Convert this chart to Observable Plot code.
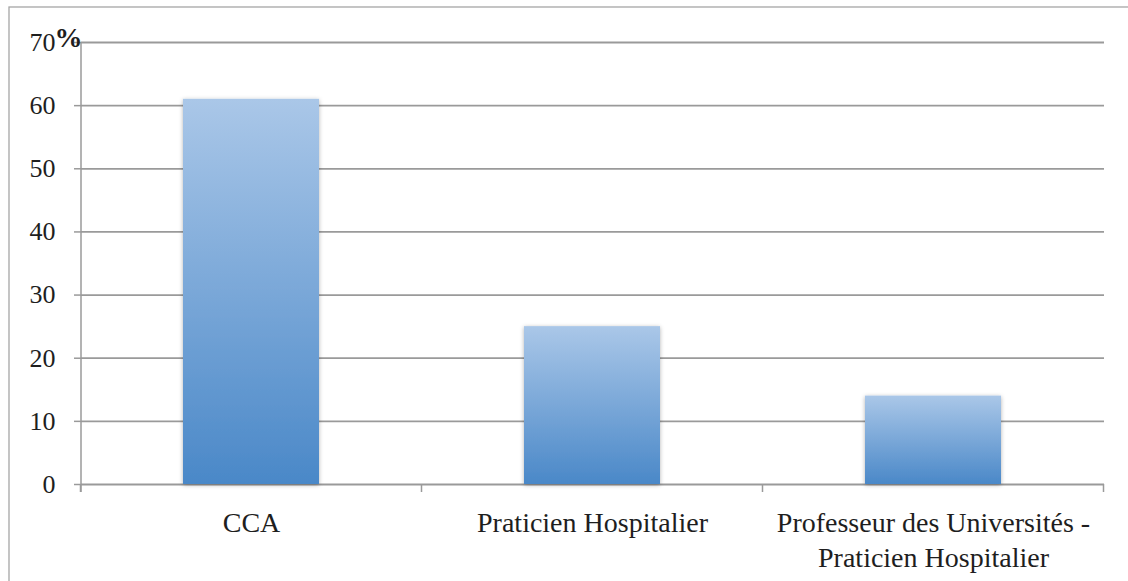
<!DOCTYPE html>
<html><head><meta charset="utf-8">
<script src="https://cdn.jsdelivr.net/npm/d3@7"></script>
<script src="https://cdn.jsdelivr.net/npm/@observablehq/plot@0.6"></script>
<style>body{margin:0;background:#fff;overflow:hidden}</style>
</head><body><div id="chart"></div>
<script>
const categories = ["CCA", "Praticien Hospitalier", "Professeur des Universités -\nPraticien Hospitalier"];
const values = [61, 25, 14];
const yTicks = [0, 10, 20, 30, 40, 50, 60, 70];
const yUnit = "%";

const data = categories.map((c, i) => ({category: c, value: values[i]}));
const GRID = "#9a9a9a";

const plot = Plot.plot({
  width: 1128, height: 581,
  marginLeft: 81, marginRight: 24, marginTop: 42, marginBottom: 97,
  style: {fontFamily: "'Liberation Serif', serif", background: "white", color: "#222"},
  x: {domain: categories, paddingInner: 0.6, paddingOuter: 0.3, label: null},
  y: {domain: [0, 70], label: null},
  marks: [
    Plot.gridY(yTicks, {stroke: GRID, strokeOpacity: 1, strokeWidth: 1.8}),
    (index, scales, values, dim) => {
      const g = d3.create("svg:g");
      const x = scales.x;
      const step = x.step ? x.step() : (dim.width - dim.marginLeft - dim.marginRight) / categories.length;
      const bw = x.bandwidth();
      const y0 = dim.height - dim.marginBottom;
      const bounds = categories.map(c => x(c) + bw / 2 - step / 2);
      bounds.push(x(categories[categories.length - 1]) + bw / 2 + step / 2);
      for (const b of bounds) {
        g.append("line").attr("x1", b).attr("x2", b).attr("y1", y0).attr("y2", y0 + 8)
          .attr("stroke", GRID).attr("stroke-width", 1.5);
      }
      g.append("line").attr("x1", dim.marginLeft).attr("x2", dim.marginLeft)
        .attr("y1", dim.marginTop).attr("y2", y0 + 8).attr("stroke", GRID).attr("stroke-width", 1.5);
      return g.node();
    },
    Plot.barY(data, {x: "category", y: "value", fill: "url(#barGrad)"}),
    Plot.axisY(yTicks, {tickSize: 7, tickPadding: 19, fontSize: 26, stroke: GRID, strokeWidth: 1.5, fill: "#1e1e1e"}),
    Plot.axisX({tickSize: 0, tickPadding: 23, fontSize: 28, lineHeight: 1.25, fill: "#1e1e1e"}),
    Plot.text([yUnit], {frameAnchor: "top-left", dx: -13, dy: -4, lineAnchor: "middle", textAnchor: "middle", fontWeight: "bold", fontSize: 28, fill: "#1e1e1e"})
  ]
});

const svg = d3.select(plot);
const defs = svg.insert("defs", ":first-child");
const grad = defs.append("linearGradient").attr("id", "barGrad")
  .attr("x1", 0).attr("y1", 0).attr("x2", 0).attr("y2", 1);
grad.append("stop").attr("offset", "0%").attr("stop-color", "#aac7e8");
grad.append("stop").attr("offset", "100%").attr("stop-color", "#4a88c8");
const f = defs.append("filter").attr("id", "shadow").attr("x", "-10%").attr("y", "-10%").attr("width", "120%").attr("height", "120%");
f.append("feDropShadow").attr("dx", 0).attr("dy", 1).attr("stdDeviation", 2).attr("flood-color", "#000").attr("flood-opacity", 0.3);
svg.selectAll("g[aria-label=bar] rect").attr("filter", "url(#shadow)");
svg.insert("rect", "defs + *").attr("x", 9).attr("y", 7).attr("width", 1200).attr("height", 700)
  .attr("fill", "none").attr("stroke", "#a6a6a6").attr("stroke-width", 1.3);

document.getElementById("chart").appendChild(plot);
</script>
</body></html>
